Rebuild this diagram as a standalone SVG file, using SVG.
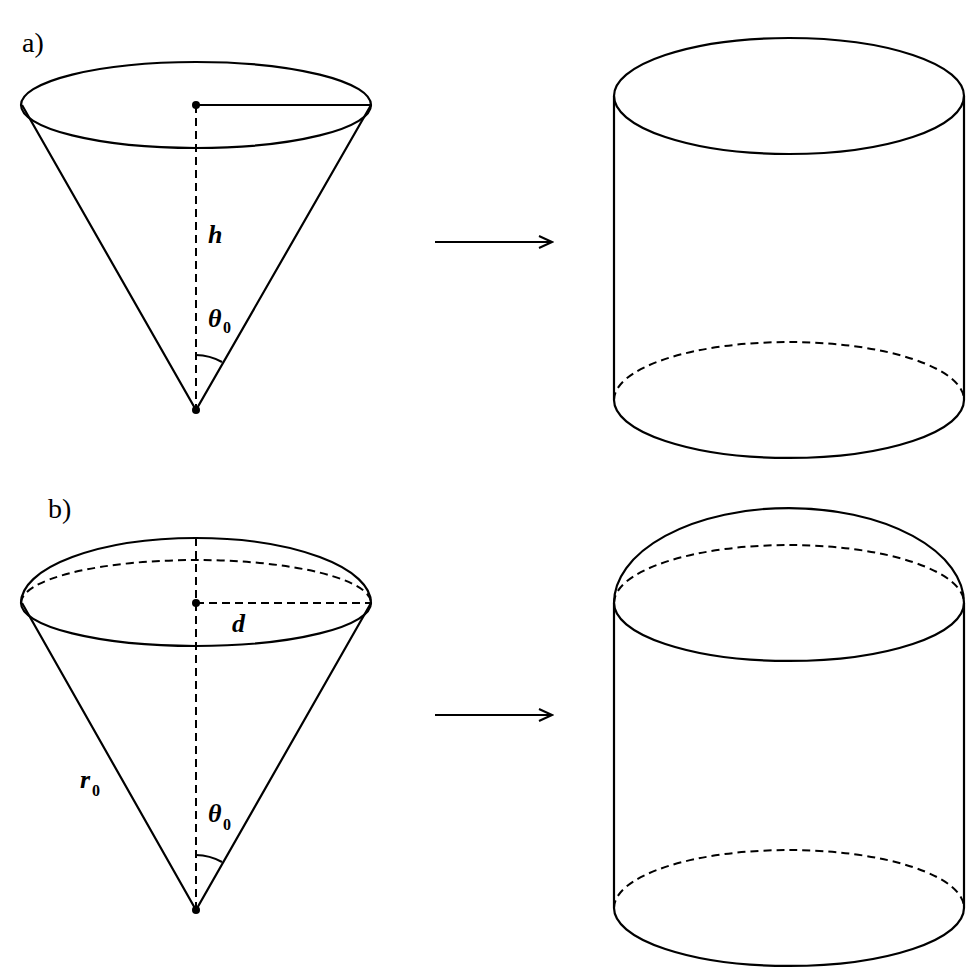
<svg xmlns="http://www.w3.org/2000/svg" width="969" height="970" viewBox="0 0 969 970">
<style>
.s{fill:none;stroke:#000;stroke-width:2.2}
.d{fill:none;stroke:#000;stroke-width:2;stroke-dasharray:8,5}
.t{font-family:"Liberation Serif",serif;font-size:28px}
.i{font-family:"Liberation Serif",serif;font-size:26px;font-style:italic;font-weight:bold}
.sub{font-family:"Liberation Serif",serif;font-size:16px;font-weight:bold}
</style>
<defs><marker id="ar" markerWidth="16" markerHeight="14" refX="14" refY="7" orient="auto" markerUnits="userSpaceOnUse"><path d="M1,1 L14,7 L1,13" fill="none" stroke="#000" stroke-width="2"/></marker></defs>
<text class="t" x="22" y="52">a)</text>
<text class="t" x="48" y="518">b)</text>
<g id="coneA">
<ellipse class="s" cx="196" cy="105" rx="175" ry="43"/>
<path class="s" d="M22,105 L196,410 L371,105"/>
<line class="d" x1="196" y1="105" x2="196" y2="410"/>
<line class="s" x1="196" y1="105" x2="371" y2="105"/>
<circle cx="196" cy="105" r="4"/><circle cx="196" cy="410" r="4"/>
<path class="s" stroke-width="1.5" d="M196,355 A55,55 0 0 1 222,362"/>
<text class="i" x="208" y="243">h</text>
<text class="i" x="208" y="327">θ</text><text class="sub" x="223" y="333">0</text>
</g>
<g id="cylA">
<ellipse class="s" cx="789" cy="96" rx="175" ry="58"/>
<line class="s" x1="614" y1="96" x2="614" y2="400"/>
<line class="s" x1="964" y1="96" x2="964" y2="400"/>
<path class="s" d="M614,400 A175,58 0 0 0 964,400"/>
<path class="d" d="M614,400 A175,58 0 0 1 964,400"/>
</g>
<g id="coneB">
<path class="s" d="M21,603 A175,65 0 0 1 371,603"/>
<path class="d" d="M21,603 A175,43 0 0 1 371,603"/>
<path class="s" d="M21,603 A175,43 0 0 0 371,603"/>
<path class="s" d="M22,603 L196,910 L371,603"/>
<line class="d" x1="196" y1="538" x2="196" y2="910"/>
<line class="d" x1="196" y1="603" x2="371" y2="603"/>
<circle cx="196" cy="603" r="4"/><circle cx="196" cy="910" r="4"/>
<path class="s" stroke-width="1.5" d="M196,855 A55,55 0 0 1 222,862"/>
<text class="i" x="232" y="632">d</text>
<text class="i" x="80" y="788">r</text><text class="sub" x="92" y="796">0</text>
<text class="i" x="208" y="822">θ</text><text class="sub" x="223" y="830">0</text>
</g>
<g id="cylB">
<path class="s" d="M614,603 A175,95 0 0 1 964,603"/>
<path class="d" d="M614,603 A175,58 0 0 1 964,603"/>
<path class="s" d="M614,603 A175,58 0 0 0 964,603"/>
<line class="s" x1="614" y1="603" x2="614" y2="908"/>
<line class="s" x1="964" y1="603" x2="964" y2="908"/>
<path class="s" d="M614,908 A175,58 0 0 0 964,908"/>
<path class="d" d="M614,908 A175,58 0 0 1 964,908"/>
</g>
<g id="connectors">
<line class="s" x1="435" y1="242" x2="552" y2="242" marker-end="url(#ar)"/>
<line class="s" x1="435" y1="715" x2="552" y2="715" marker-end="url(#ar)"/>
</g>
</svg>
